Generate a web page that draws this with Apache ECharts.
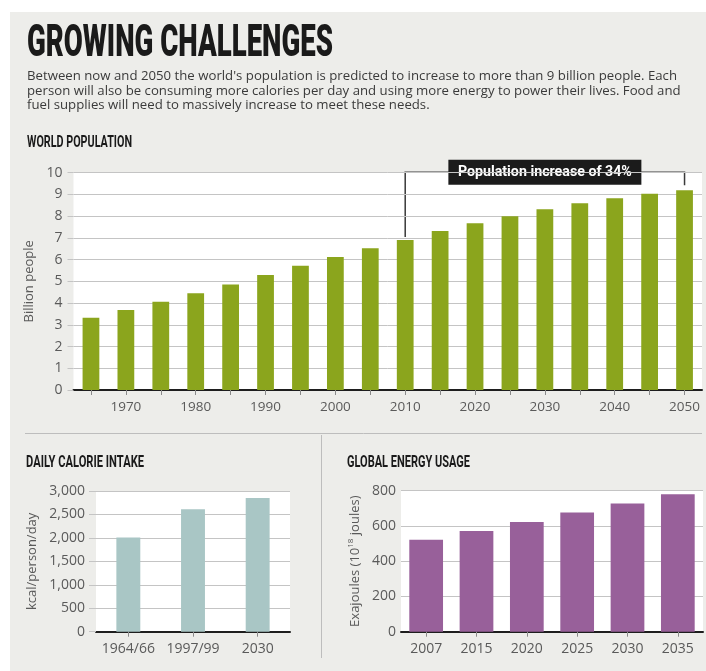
<!DOCTYPE html>
<html>
<head>
<meta charset="utf-8">
<script src="https://cdn.jsdelivr.net/npm/echarts@6/dist/echarts.min.js"></script>
<style>
  html, body { margin: 0; padding: 0; background: #ffffff; }
  #chart { width: 706px; height: 671px; }
</style>
</head>
<body>
<div id="chart"></div>
<script>
// World population, every five years (billion people)
const popYears = ['1965', '1970', '1975', '1980', '1985', '1990', '1995', '2000', '2005',
                  '2010', '2015', '2020', '2025', '2030', '2035', '2040', '2045', '2050'];
const population = [3.33, 3.68, 4.06, 4.45, 4.85, 5.29, 5.72, 6.12, 6.52,
                    6.90, 7.32, 7.67, 8.00, 8.32, 8.59, 8.82, 9.03, 9.19];

// Daily calorie intake (kcal/person/day)
const caloriePeriods = ['1964/66', '1997/99', '2030'];
const calories = [2010, 2610, 2850];

// Global energy usage (exajoules)
const energyYears = ['2007', '2015', '2020', '2025', '2030', '2035'];
const energy = [522, 572, 623, 676, 727, 780];

// Headline texts
const headline = 'GROWING CHALLENGES';
const intro = [
  "Between now and 2050 the world's population is predicted to increase to more than 9 billion people. Each",
  'person will also be consuming more calories per day and using more energy to power their lives. Food and',
  'fuel supplies will need to massively increase to meet these needs.'
];
const popTitle = 'WORLD POPULATION';
const calTitle = 'DAILY CALORIE INTAKE';
const energyTitle = 'GLOBAL ENERGY USAGE';
const increaseNote = 'Population increase of 34%';
const noteFrom = '2010';
const noteTo = '2050';

const PANEL = '#ededea';
const GRIDLINE = '#c4c4c4';
const LABEL = '#5a5a5a';
const AXIS_FONT = 'Open Sans';

// horizontal squeeze factor so a string occupies a given width
const measureCtx = document.createElement('canvas').getContext('2d');
function squeeze(text, font, width) {
  measureCtx.font = font;
  return width / measureCtx.measureText(text).width;
}

function headingText(text, x, y, width, font) {
  return {
    type: 'text', x: x, y: y, scaleX: squeeze(text, font, width), silent: true,
    style: { text: text, font: font, fill: '#1a1a1a',
             align: 'left', textAlign: 'left', verticalAlign: 'middle', textVerticalAlign: 'middle' }
  };
}

const titleFont = '900 44px Roboto';
const sectionFont = 'bold 17px Roboto';
const introFont = '13px "Open Sans"';
const introScale = squeeze(intro[0], introFont, 650);

const staticGraphics = [
  { type: 'rect', silent: true, z: -10, shape: { x: 10, y: 12, width: 696, height: 659 }, style: { fill: PANEL } },
  headingText(headline, 27, 45, 306, titleFont),
  headingText(popTitle, 27, 143, 105, sectionFont),
  headingText(calTitle, 26, 463, 118, sectionFont),
  headingText(energyTitle, 347, 463, 123, sectionFont),
  { type: 'line', silent: true, shape: { x1: 25, y1: 433.5, x2: 702, y2: 433.5 }, style: { stroke: '#bdbdbd', lineWidth: 1 } },
  { type: 'line', silent: true, shape: { x1: 321.5, y1: 435, x2: 321.5, y2: 658 }, style: { stroke: '#bdbdbd', lineWidth: 1 } }
].concat(intro.map(function (line, i) {
  return {
    type: 'text', x: 27, y: 76.5 + i * 14.6, scaleX: introScale, silent: true,
    style: { text: line, font: introFont, fill: '#3a3a3a',
             align: 'left', textAlign: 'left', verticalAlign: 'middle', textVerticalAlign: 'middle' }
  };
}));

function valueAxis(gridIndex, max, interval, name, nameGap, extra) {
  return Object.assign({
    type: 'value', gridIndex: gridIndex, min: 0, max: max, interval: interval,
    name: name, nameLocation: 'middle', nameGap: nameGap, nameRotate: 90,
    nameTextStyle: { color: LABEL, fontFamily: AXIS_FONT, fontSize: 13 },
    axisLine: { show: false },
    axisTick: { show: true, length: 6, lineStyle: { color: GRIDLINE } },
    axisLabel: { color: LABEL, fontFamily: AXIS_FONT, fontSize: 14, margin: 11 },
    splitLine: { show: true, lineStyle: { color: GRIDLINE, width: 1 } }
  }, extra || {});
}

function categoryAxis(gridIndex, data, extra) {
  return Object.assign({
    type: 'category', gridIndex: gridIndex, data: data,
    axisLine: { show: true, lineStyle: { color: '#1e1e1e', width: 2 } },
    axisTick: { show: true, alignWithLabel: true, interval: 0, length: 5, lineStyle: { color: '#8a8a8a' } },
    axisLabel: { color: LABEL, fontFamily: AXIS_FONT, fontSize: 14, margin: 10, interval: 0, hideOverlap: false },
    splitLine: { show: false }
  }, extra || {});
}

const chart = echarts.init(document.getElementById('chart'), null, { renderer: 'canvas' });

chart.setOption({
  animation: false,
  backgroundColor: '#ffffff',
  grid: [
    { left: 73.5, top: 172.7, width: 628.5, height: 217.3, show: true, backgroundColor: '#ffffff', borderWidth: 0 },
    { left: 96, top: 491, width: 194, height: 140.7, show: true, backgroundColor: '#ffffff', borderWidth: 0 },
    { left: 401, top: 490.7, width: 302, height: 141, show: true, backgroundColor: '#ffffff', borderWidth: 0 }
  ],
  xAxis: [
    categoryAxis(0, popYears, {
      axisLabel: { color: LABEL, fontFamily: AXIS_FONT, fontSize: 13.5, margin: 10,
                   interval: function (i) { return i % 2 === 1; } }
    }),
    categoryAxis(1, caloriePeriods),
    categoryAxis(2, energyYears)
  ],
  yAxis: [
    valueAxis(0, 10, 1, 'Billion people', 34),
    valueAxis(1, 3000, 500, 'kcal/person/day', 57, {
      axisTick: { show: true, length: 7, lineStyle: { color: GRIDLINE } },
      axisLabel: { color: LABEL, fontFamily: AXIS_FONT, fontSize: 14, margin: 11,
                   formatter: function (v) { return v.toLocaleString('en-US'); } }
    }),
    valueAxis(2, 800, 200, 'Exajoules (10{sup|18} joules)', 38, {
      axisTick: { show: false },
      axisLabel: { color: LABEL, fontFamily: AXIS_FONT, fontSize: 14, margin: 5 },
      nameTextStyle: {
        color: LABEL, fontFamily: AXIS_FONT, fontSize: 13, lineHeight: 16,
        rich: { sup: { fontSize: 8, fontFamily: AXIS_FONT, color: LABEL, verticalAlign: 'top', lineHeight: 16 } }
      }
    })
  ],
  series: [
    { type: 'bar', xAxisIndex: 0, yAxisIndex: 0, data: population, barWidth: '48%',
      itemStyle: { color: '#8ba51d' }, silent: true },
    { type: 'bar', xAxisIndex: 1, yAxisIndex: 1, data: calories, barWidth: '37%',
      itemStyle: { color: '#a9c6c5' }, silent: true },
    { type: 'bar', xAxisIndex: 2, yAxisIndex: 2, data: energy, barWidth: '67%',
      itemStyle: { color: '#98609a' }, silent: true }
  ],
  graphic: staticGraphics
});

// Bracket spanning the 2010 and 2050 bars, with its caption box on top
const iFrom = popYears.indexOf(noteFrom);
const iTo = popYears.indexOf(noteTo);
const pFrom = chart.convertToPixel({ gridIndex: 0 }, [iFrom, population[iFrom]]);
const pTo = chart.convertToPixel({ gridIndex: 0 }, [iTo, population[iTo]]);
const topY = chart.convertToPixel({ gridIndex: 0 }, [iFrom, 10])[1] - 0.5;
const midX = (pFrom[0] + pTo[0]) / 2;
const noteFont = 'bold 14px Roboto';
const noteScale = squeeze(increaseNote, noteFont, 174);

chart.setOption({
  graphic: staticGraphics.concat([
    { type: 'polyline', silent: true,
      shape: { points: [[pFrom[0], pFrom[1] - 3], [pFrom[0], topY], [pTo[0], topY], [pTo[0], pTo[1] - 5]] },
      style: { stroke: '#3a3a3a', lineWidth: 1.5, fill: null } },
    { type: 'rect', silent: true, shape: { x: midX - 96.5, y: topY - 12.5, width: 193, height: 25 },
      style: { fill: '#1b1b1b' } },
    { type: 'text', silent: true, x: midX, y: topY + 0.5, scaleX: noteScale,
      style: { text: increaseNote, font: noteFont, fill: '#ffffff',
               align: 'center', textAlign: 'center', verticalAlign: 'middle', textVerticalAlign: 'middle' } }
  ])
});
</script>
</body>
</html>
